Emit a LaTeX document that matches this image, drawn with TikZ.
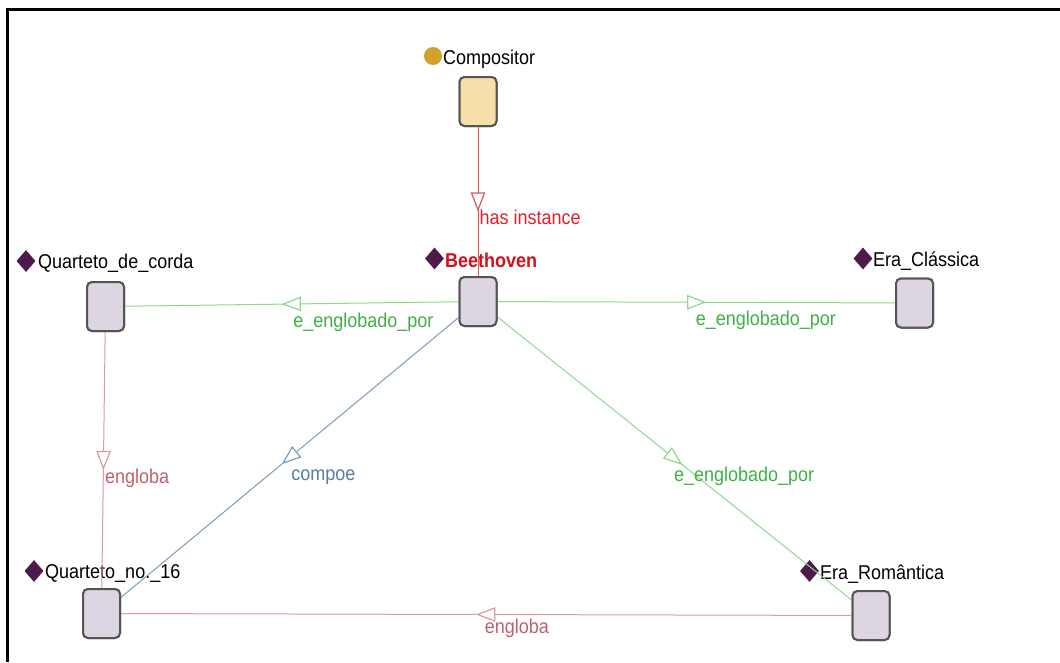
\documentclass[tikz,border=0pt]{standalone}
\usepackage{fontspec}
\setmainfont{Liberation Sans}[FakeStretch=0.9]
\usetikzlibrary{shapes.geometric,decorations.markings}

\definecolor{boxedge}{HTML}{555555}
\definecolor{clsfill}{HTML}{F6DFA8}
\definecolor{indfill}{HTML}{DDD6E2}
\definecolor{gemcol}{HTML}{4E1A4C}
\definecolor{dotcol}{HTML}{D2A22E}
\definecolor{instline}{HTML}{E05555}
\definecolor{insttext}{HTML}{E0202A}
\definecolor{grnline}{HTML}{8ED88E}
\definecolor{grntext}{HTML}{40B048}
\definecolor{bluline}{HTML}{7C9CC0}
\definecolor{blutext}{HTML}{5A7BA5}
\definecolor{pnkline}{HTML}{E09A9A}
\definecolor{pnktext}{HTML}{C0606E}
\definecolor{beetred}{HTML}{CC1020}

\newcommand{\lblfont}{\fontsize{20}{24}\selectfont}

\tikzset{
  box/.style={draw=boxedge, line width=2pt, rounded corners=5pt,
    minimum width=37pt, minimum height=49pt, inner sep=0pt},
  clsbox/.style={box, fill=clsfill},
  indbox/.style={box, fill=indfill},
  tag/.style={anchor=base west, inner sep=0pt, font=\lblfont},
  gem/.style={diamond, fill=gemcol, inner sep=0pt,
    minimum width=19pt, minimum height=22pt},
  rel/.style={draw=#1, line width=1pt, postaction={decorate},
    decoration={markings, mark=at position 0.5 with {
      \draw[draw=#1, fill=white, line width=1.2pt, line join=miter]
        (8.5pt,0pt) -- (-8.5pt,6.5pt) -- (-8.5pt,-6.5pt) -- cycle;}}},
  rlabel/.style={pos=0.5, anchor=base west, inner sep=0pt, font=\lblfont,
    xshift=1pt, yshift=-23pt}
}

\begin{document}
\begin{tikzpicture}[x=1pt, y=-1pt]
  \useasboundingbox (0,0) rectangle (1060,662);
  \fill[white] (0,0) rectangle (1060,662);

  % frame along the top and left edges
  \draw[line width=2.4pt] (7.5,662) -- (7.5,9.5) -- (1060,9.5);

  % boxes
  \node[clsbox] (comp) at (478,101.5) {};
  \node[indbox] (beet) at (478,301.5) {};
  \node[indbox] (qdc)  at (105.5,306.5) {};
  \node[indbox] (ec)   at (914.5,303) {};
  \node[indbox] (q16)  at (101.5,613.5) {};
  \node[indbox] (er)   at (871,615.5) {};

  % captions with their icons
  \node[circle, fill=dotcol, minimum size=18pt, inner sep=0pt] (compicon) at (433,56) {};
  \node[tag] (comptxt) at (443,64) {Compositor};

  \node[gem] (beeticon) at (434.5,258.5) {};
  \node[tag, text=beetred, font=\lblfont\bfseries] (beettxt) at (445,267) {Beethoven};

  \node[gem] (qdcicon) at (26,261) {};
  \node[tag] (qdctxt) at (38,268) {Quarteto\_de\_corda};

  \node[gem] (ecicon) at (863,258.5) {};
  \node[tag] (ectxt) at (873,266) {Era\_Clássica};

  \node[gem] (q16icon) at (34,571) {};
  \node[tag] (q16txt) at (45,578) {Quarteto\_no.\_16};

  \node[gem] (ericon) at (809.5,571) {};
  \node[tag] (ertxt) at (820,579) {Era\_Romântica};

  % relations
  \draw[rel=instline] (comp) -- node[rlabel, text=insttext] (l1) {has instance} (beet);
  \draw[rel=grnline] (beet) -- node[rlabel, text=grntext] (l2) {e\_englobado\_por} (qdc);
  \draw[rel=grnline] (beet) -- node[rlabel, text=grntext, xshift=-2pt] (l3) {e\_englobado\_por} (ec);
  \draw[rel=grnline] (beet) -- node[rlabel, text=grntext, xshift=-2pt] (l4) {e\_englobado\_por} (er);
  \draw[rel=bluline] (beet) -- node[rlabel, text=blutext] (l5) {compoe} (q16);
  \draw[rel=pnkline] (qdc) -- node[rlabel, text=pnktext] (l6) {engloba} (q16);
  \draw[rel=pnkline] (er) -- node[rlabel, text=pnktext, xshift=-3pt, yshift=4pt] (l7) {engloba} (q16);

  % keep the boxes above the connector ends
  \node[clsbox] at (comp) {};
  \foreach \n in {beet,qdc,ec,q16,er} { \node[indbox] at (\n) {}; }
\end{tikzpicture}
\end{document}
